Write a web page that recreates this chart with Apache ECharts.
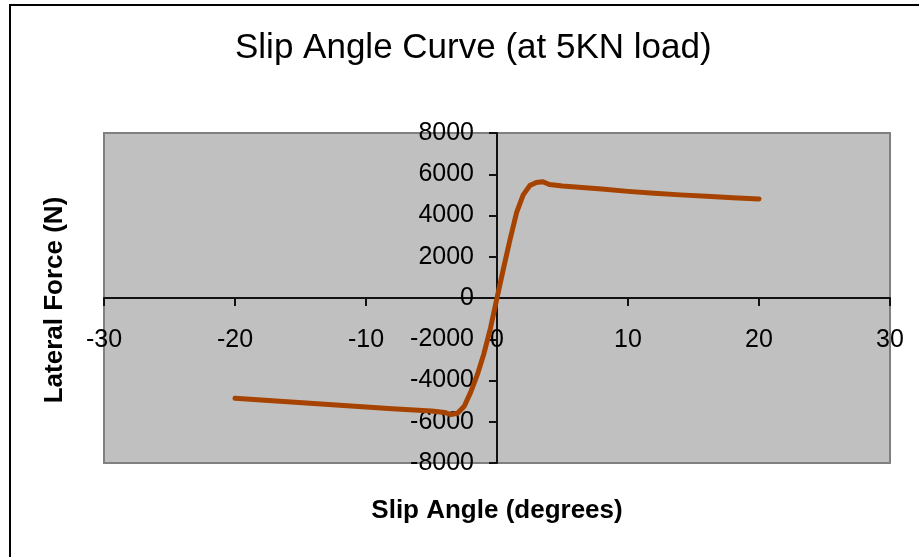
<!DOCTYPE html>
<html>
<head>
<meta charset="utf-8">
<script src="https://cdn.jsdelivr.net/npm/echarts@6/dist/echarts.min.js"></script>
<style>
html,body{margin:0;padding:0;background:#fff;}
#chart{width:919px;height:557px;}
</style>
</head>
<body>
<div id="chart"></div>
<script>
const titleText = 'Slip Angle Curve (at 5KN load)';
const xTitle = 'Slip Angle (degrees)';
const yTitle = 'Lateral Force (N)';
const slipAngle = [-20, -18, -16, -14, -12, -10, -8, -6, -5, -4, -3.5, -3, -2.5, -2, -1.5, -1, -0.5, 0, 0.5, 1, 1.5, 2, 2.5, 3, 3.5, 4, 5, 6, 8, 10, 12, 14, 16, 18, 20];
const lateralForce = [-4860, -4950, -5030, -5110, -5200, -5290, -5370, -5440, -5480, -5550, -5650, -5580, -5250, -4550, -3720, -2700, -1470, 0, 1450, 2850, 4150, 5000, 5450, 5600, 5640, 5500, 5430, 5380, 5280, 5170, 5080, 5000, 4930, 4860, 4800];
const xMin = -30, xMax = 30, xStep = 10;
const yMin = -8000, yMax = 8000, yStep = 2000;

const chart = echarts.init(document.getElementById('chart'), null, {renderer: 'canvas'});
const font = '"Liberation Sans", Arial, sans-serif';
chart.setOption({
  animation: false,
  backgroundColor: '#fff',
  title: {
    text: titleText,
    left: 230,
    top: 26,
    textStyle: {fontFamily: font, fontSize: 35, fontWeight: 'normal', color: '#000'}
  },
  grid: {left: 104, right: 29, top: 133, bottom: 94, show: true, backgroundColor: '#c0c0c0', borderColor: '#808080', borderWidth: 2},
  xAxis: {
    type: 'value', min: xMin, max: xMax, interval: xStep,
    axisLine: {onZero: true, lineStyle: {color: '#111', width: 2}},
    axisTick: {show: true, length: 8, lineStyle: {color: '#111', width: 2}},
    axisLabel: {margin: -135, fontFamily: font, fontSize: 25, color: '#000', formatter: v => String(v)},
    splitLine: {show: false}
  },
  yAxis: {
    type: 'value', min: yMin, max: yMax, interval: yStep,
    axisLine: {onZero: true, lineStyle: {color: '#111', width: 2}},
    axisTick: {show: true, length: 8, lineStyle: {color: '#111', width: 2}},
    axisLabel: {margin: -370, fontFamily: font, fontSize: 25, color: '#000', formatter: v => String(v)},
    splitLine: {show: false}
  },
  series: [{
    type: 'line',
    data: slipAngle.map((x, i) => [x, lateralForce[i]]),
    showSymbol: false,
    symbol: 'none',
    lineStyle: {color: '#a64300', width: 5, join: 'round', cap: 'round'},
    itemStyle: {color: '#a64300'}
  }],
  graphic: [
    {type: 'rect', shape: {x: 10, y: 5, width: 1000, height: 1000}, style: {fill: 'none', stroke: '#000', lineWidth: 2}, silent: true},
    {type: 'text', x: 497, y: 511, style: {text: xTitle, font: 'bold 26px ' + font, fill: '#000', textAlign: 'center', textVerticalAlign: 'middle'}},
    {type: 'text', x: 55, y: 300, rotation: Math.PI / 2, style: {text: yTitle, font: 'bold 26px ' + font, fill: '#000', textAlign: 'center', textVerticalAlign: 'middle'}}
  ]
});
</script>
</body>
</html>
